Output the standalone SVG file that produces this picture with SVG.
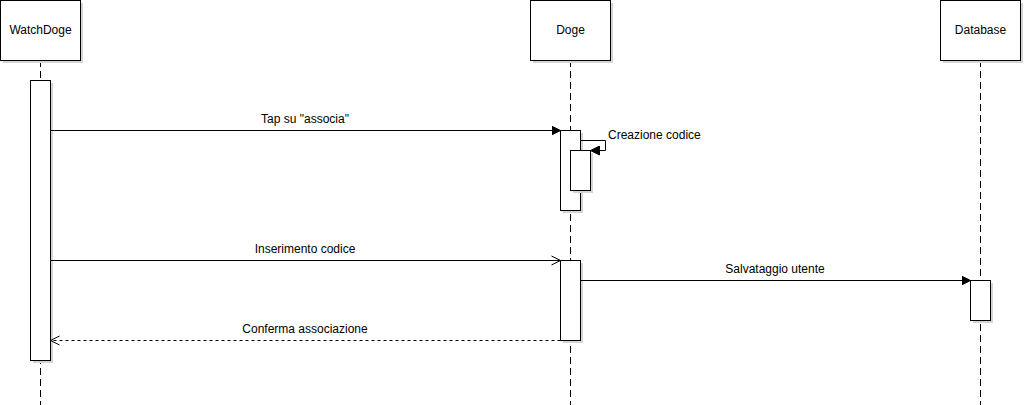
<svg xmlns="http://www.w3.org/2000/svg" width="1025" height="405" viewBox="0 0 1025 405">
<defs>
<style>
.box{fill:#fff;stroke:#000;stroke-width:1}
.sh{fill:#d4d4d4;stroke:none}
.life{stroke:#000;stroke-width:1;stroke-dasharray:7 4;fill:none}
.msg{stroke:#000;stroke-width:1;fill:none}
.ret{stroke:#000;stroke-width:1;fill:none;stroke-dasharray:3 3}
text{font-family:"Liberation Sans",Arial,sans-serif;font-size:12px;fill:#000}
.c{text-anchor:middle}
</style>
<marker id="fill" markerWidth="10" markerHeight="10" refX="9" refY="5" orient="auto" markerUnits="userSpaceOnUse">
<path d="M0,0.5 L9,5 L0,9.5 Z" fill="#000" stroke="#000" stroke-width="1"/>
</marker>
<marker id="open" markerWidth="12" markerHeight="12" refX="10" refY="6" orient="auto" markerUnits="userSpaceOnUse">
<path d="M1,1.5 L10,6 L1,10.5" fill="none" stroke="#000" stroke-width="1"/>
</marker>
</defs>
<rect width="1025" height="405" fill="#fff"/>

<g id="WatchDoge">
<line class="life" x1="40.5" y1="60" x2="40.5" y2="405"/>
<rect class="sh" x="3" y="3" width="80" height="60"/>
<rect class="box" x="0.5" y="0.5" width="80" height="60"/>
<text class="c" x="40.5" y="34">WatchDoge</text>
<rect class="sh" x="33" y="83" width="20" height="280"/>
<rect class="box" x="30.5" y="80.5" width="20" height="280"/>
</g>

<g id="Doge">
<line class="life" x1="570.5" y1="60" x2="570.5" y2="405"/>
<rect class="sh" x="533" y="3" width="80" height="60"/>
<rect class="box" x="530.5" y="0.5" width="80" height="60"/>
<text class="c" x="570.5" y="34">Doge</text>
<rect class="sh" x="563" y="133" width="20" height="80"/>
<rect class="box" x="560.5" y="130.5" width="20" height="80"/>
<rect class="sh" x="573" y="153" width="20" height="40"/>
<rect class="box" x="570.5" y="150.5" width="20" height="40"/>
<rect class="sh" x="563" y="263" width="20" height="80"/>
<rect class="box" x="560.5" y="260.5" width="20" height="80"/>
</g>

<g id="Database">
<line class="life" x1="980.5" y1="60" x2="980.5" y2="405"/>
<rect class="sh" x="943" y="3" width="80" height="60"/>
<rect class="box" x="940.5" y="0.5" width="80" height="60"/>
<text class="c" x="980.5" y="34">Database</text>
<rect class="sh" x="973" y="283" width="20" height="40"/>
<rect class="box" x="970.5" y="280.5" width="20" height="40"/>
</g>

<g id="connectors">
<line class="msg" x1="50.5" y1="130.5" x2="560.5" y2="130.5" marker-end="url(#fill)"/>
<text class="c" x="305" y="123">Tap su "associa"</text>
<path class="msg" d="M580.5,140.5 H605.5 V150.5 H590.5" marker-end="url(#fill)"/>
<text x="608" y="139">Creazione codice</text>
<line class="msg" x1="50.5" y1="260.5" x2="560.5" y2="260.5" marker-end="url(#open)"/>
<text class="c" x="305" y="253">Inserimento codice</text>
<line class="msg" x1="580.5" y1="280.5" x2="970.5" y2="280.5" marker-end="url(#fill)"/>
<text class="c" x="775" y="273">Salvataggio utente</text>
<line class="ret" x1="560.5" y1="340.5" x2="50.5" y2="340.5" marker-end="url(#open)"/>
<text class="c" x="305" y="333">Conferma associazione</text>
</g>
</svg>
